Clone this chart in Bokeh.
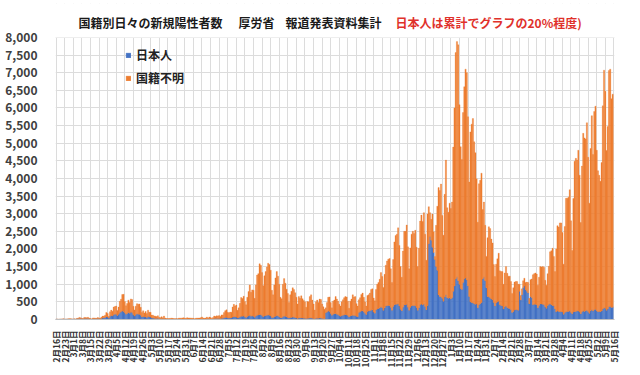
import math
from bokeh.plotting import figure
from bokeh.models import (Range1d, FixedTicker, NumeralTickFormatter, Label, Legend,
                          LegendItem, BoxAnnotation)
from bokeh.embed import file_html
from bokeh.resources import INLINE

# weekly tick labels (every 7th day, first day = 2020-02-16)
day_labels = [
    "2月16日", "2月23日", "3月1日", "3月8日", "3月15日", "3月22日", "3月29日",
    "4月5日", "4月12日", "4月19日", "4月26日", "5月3日", "5月10日", "5月17日",
    "5月24日", "5月31日", "6月7日", "6月14日", "6月21日", "6月28日", "7月5日",
    "7月12日", "7月19日", "7月26日", "8月2日", "8月9日", "8月16日", "8月23日",
    "8月30日", "9月6日", "9月13日", "9月20日", "9月27日", "10月4日", "10月11日",
    "10月18日", "10月25日", "11月1日", "11月8日", "11月15日", "11月22日",
    "11月29日", "12月6日", "12月13日", "12月20日", "12月27日", "1月3日",
    "1月10日", "1月17日", "1月24日", "1月31日", "2月7日", "2月14日", "2月21日",
    "2月28日", "3月7日", "3月14日", "3月21日", "3月28日", "4月4日", "4月11日",
    "4月18日", "4月25日", "5月2日", "5月9日", "5月16日",
]

# daily total of new positives (top of each stacked bar), one line per week
total = [
    8, 12, 6, 10, 12, 14, 20,
    10, 12, 14, 18, 22, 20, 15,
    14, 20, 12, 33, 36, 59, 47,
    35, 27, 59, 54, 52, 62, 40,
    26, 17, 44, 44, 38, 35, 55,
    43, 39, 66, 96, 96, 124, 200,
    173, 87, 220, 266, 235, 353, 368,
    383, 252, 351, 515, 576, 708, 714,
    507, 390, 457, 549, 482, 584, 568,
    373, 272, 379, 450, 436, 440, 344,
    201, 248, 186, 227, 169, 265, 205,
    203, 125, 123, 101, 95, 83, 107,
    62, 53, 78, 51, 98, 43, 28,
    27, 30, 31, 38, 34, 26, 23,
    26, 21, 36, 40, 37, 45, 50,
    35, 37, 51, 40, 44, 40, 38,
    34, 18, 36, 41, 40, 41, 52,
    72, 44, 36, 42, 68, 38, 70,
    56, 31, 56, 98, 83, 105, 100,
    110, 87, 131, 131, 195, 250, 274,
    208, 190, 210, 207, 355, 430, 385,
    410, 260, 330, 460, 622, 595, 660,
    510, 420, 630, 795, 981, 775, 840,
    830, 600, 980, 1260, 1300, 1580, 1535,
    1330, 960, 1240, 1360, 1490, 1595, 1560,
    1400, 830, 700, 980, 1180, 1360, 1230,
    1000, 630, 590, 1000, 1160, 1030, 860,
    740, 480, 700, 800, 900, 850, 760,
    630, 440, 650, 600, 670, 590, 540,
    500, 350, 510, 500, 650, 700, 550,
    440, 270, 500, 550, 480, 580, 570,
    440, 360, 290, 330, 480, 630, 640,
    480, 330, 520, 550, 650, 580, 520,
    430, 380, 500, 560, 620, 650, 640,
    520, 320, 520, 580, 700, 640, 650,
    450, 380, 560, 620, 710, 750, 630,
    500, 380, 680, 700, 750, 850, 870,
    610, 530, 850, 1000, 1050, 1140, 1330,
    1220, 910, 1280, 1540, 1660, 1710, 1730,
    1440, 1050, 1700, 2200, 2380, 2420, 2600,
    2100, 1500, 1200, 1940, 2500, 2500, 2680,
    2060, 1440, 2030, 2420, 2500, 2440, 2530,
    2050, 1500, 2020, 2790, 2960, 2780, 3030,
    2420, 1680, 2990, 3200, 3030, 2840, 2990,
    2490, 1790, 2670, 3210, 3740, 3660, 3840,
    2950, 2390, 3550, 4520, 3170, 3040, 3300,
    3150, 3330, 4890, 6000, 7570, 7880, 7790,
    6090, 4900, 4540, 5870, 6600, 7100, 7000,
    5750, 3900, 5320, 5540, 5700, 5040, 4730,
    3990, 2760, 3850, 3950, 4150, 3120, 3330,
    2670, 1790, 2320, 2630, 2580, 2280, 2170,
    1560, 1220, 1570, 1720, 1880, 1380, 1360,
    1360, 1000, 1320, 1500, 1310, 1230, 1230,
    1080, 740, 900, 1060, 1080, 1080, 1000,
    1000, 680, 870, 1100, 1170, 1050, 1060,
    1050, 600, 1130, 1150, 1270, 1300, 1320,
    1290, 970, 1200, 1500, 1490, 1500, 1480,
    1110, 970, 1300, 1510, 1920, 1950, 2020,
    1790, 1360, 2000, 2660, 2620, 2740, 2740,
    2470, 1570, 2640, 3440, 3440, 3470, 3680,
    2800, 1960, 3430, 4490, 4570, 4520, 4800,
    4090, 2750, 4350, 5280, 5150, 5120, 5580,
    4600, 3300, 4850, 5780, 4680, 5900, 6050,
    4800, 4220, 4090, 3920, 4450, 6060, 7070,
    6470, 4790, 5470, 7060, 7100, 6260, 6390,
]

# daily new positives, Japanese nationality (blue, bottom of stack)
japanese = [
    5, 8, 4, 6, 8, 9, 12,
    6, 8, 9, 11, 13, 12, 9,
    8, 12, 7, 18, 20, 30, 25,
    18, 15, 30, 28, 26, 30, 20,
    14, 9, 22, 22, 19, 18, 27,
    20, 18, 30, 45, 44, 55, 80,
    70, 40, 90, 110, 100, 140, 150,
    150, 110, 150, 200, 220, 240, 230,
    190, 150, 170, 200, 180, 210, 200,
    140, 100, 140, 160, 150, 150, 120,
    70, 90, 70, 80, 60, 90, 70,
    70, 45, 40, 35, 30, 28, 35,
    20, 18, 25, 17, 30, 14, 10,
    9, 10, 10, 12, 11, 8, 8,
    8, 7, 12, 13, 12, 15, 16,
    11, 12, 16, 13, 14, 13, 12,
    11, 6, 12, 13, 13, 13, 16,
    22, 14, 11, 13, 21, 12, 22,
    17, 10, 17, 28, 25, 30, 28,
    30, 24, 35, 34, 48, 60, 65,
    45, 40, 45, 42, 70, 80, 72,
    70, 45, 55, 75, 95, 90, 100,
    70, 60, 85, 100, 120, 95, 100,
    90, 65, 100, 120, 125, 140, 135,
    110, 80, 100, 110, 120, 125, 120,
    100, 60, 55, 75, 95, 110, 100,
    80, 55, 50, 85, 90, 95, 75,
    60, 40, 55, 60, 70, 65, 55,
    45, 30, 45, 40, 45, 40, 38,
    35, 25, 35, 35, 45, 45, 38,
    30, 20, 35, 38, 33, 40, 40,
    30, 25, 20, 190, 210, 240, 230,
    170, 120, 150, 160, 170, 150, 140,
    110, 90, 110, 120, 130, 140, 130,
    110, 70, 100, 110, 120, 110, 115,
    90, 80, 200, 220, 240, 250, 220,
    180, 140, 230, 240, 250, 260, 280,
    210, 180, 270, 300, 310, 330, 360,
    330, 260, 330, 380, 390, 400, 400,
    340, 260, 370, 420, 430, 430, 450,
    380, 290, 250, 350, 420, 410, 430,
    350, 260, 350, 390, 400, 390, 400,
    340, 260, 330, 420, 440, 410, 440,
    370, 280, 400, 2150, 2350, 2250, 2050,
    1900, 1700, 1500, 1400, 700, 650, 640,
    600, 520, 640, 700, 620, 600, 620,
    580, 620, 800, 950, 1150, 1200, 1100,
    1000, 880, 850, 1050, 1150, 1180, 1120,
    950, 650, 500, 480, 470, 450, 430,
    440, 330, 420, 450, 480, 1150, 1200,
    1100, 900, 650, 640, 620, 580, 560,
    480, 380, 470, 500, 520, 420, 400,
    380, 300, 360, 380, 340, 320, 310,
    280, 200, 230, 270, 280, 280, 260,
    800, 550, 700, 900, 950, 850, 800,
    750, 450, 650, 620, 420, 430, 430,
    420, 330, 400, 450, 440, 430, 420,
    360, 320, 400, 430, 450, 420, 400,
    380, 300, 220, 240, 230, 220, 230,
    210, 150, 200, 220, 230, 230, 240,
    200, 160, 210, 230, 230, 240, 240,
    210, 160, 220, 240, 230, 250, 260,
    230, 180, 250, 280, 240, 280, 290,
    250, 220, 230, 220, 240, 300, 330,
    320, 260, 300, 360, 370, 340, 350,
]

title_parts = ["国籍別日々の新規陽性者数", "厚労省", "報道発表資料集計", "日本人は累計でグラフの20%程度)"]
title_colors = ["#1a1a1a", "#1a1a1a", "#1a1a1a", "#E0312B"]
series_names = ["日本人", "国籍不明"]

if len(total) != len(japanese):
    raise SystemExit("length mismatch %d %d" % (len(total), len(japanese)))

days = list(range(len(total)))
n_slots = 7 * (len(day_labels) - 1) + 1
tick_pos = [7 * i for i in range(len(day_labels))]

BLUE = "#4472C4"
ORANGE = "#ED7D31"
FONT = "Noto Sans CJK JP"

W, H = 632, 370
FRAME_L, FRAME_R, FRAME_T, FRAME_B = 55, 614, 3, 320
Y_MAX = 8000
PX_8000 = 283                       # pixel height of 0..8000
frame_h = FRAME_B - FRAME_T
y_top = frame_h * Y_MAX / PX_8000   # frame extends above 8000 to hold the title

p = figure(
    width=W, height=H,
    x_range=Range1d(-0.5, n_slots - 0.5),
    y_range=Range1d(0, y_top),
    output_backend="svg", toolbar_location=None,
    min_border_left=FRAME_L, min_border_right=W - FRAME_R,
    min_border_top=FRAME_T, min_border_bottom=H - FRAME_B,
)
p.outline_line_color = None
p.background_fill_color = "white"
p.border_fill_color = "white"

r_jp = p.vbar(x=days, top=japanese, width=1.0, fill_color=BLUE,
              line_color=BLUE, line_width=0.3)
r_un = p.vbar(x=days, bottom=japanese, top=total, width=1.0,
              fill_color=ORANGE, line_color=ORANGE, line_width=0.3)

# hide grid above the 8,000 line (title area)
p.add_layout(BoxAnnotation(bottom=Y_MAX, fill_color="white", fill_alpha=1.0,
                           line_color=None, level="glyph"))

# axes
xa = p.xaxis[0]
xa.ticker = FixedTicker(ticks=tick_pos)
xa.major_label_overrides = {t: lab for t, lab in zip(tick_pos, day_labels)}
xa.major_label_orientation = math.pi / 2
xa.major_label_text_font = FONT
xa.major_label_text_font_size = "8.5px"
xa.major_label_text_font_style = "bold"
xa.major_label_text_color = "#333333"
xa.major_label_standoff = 5
xa.major_tick_line_color = None
xa.minor_tick_line_color = None
xa.axis_line_color = "#bfbfbf"

ya = p.yaxis[0]
ya.ticker = FixedTicker(ticks=list(range(0, Y_MAX + 1, 500)))
ya.formatter = NumeralTickFormatter(format="0,0")
ya.major_label_text_font = FONT
ya.major_label_text_font_size = "12px"
ya.major_label_text_font_style = "bold"
ya.major_label_text_color = "#404040"
ya.major_label_standoff = 12
ya.major_tick_line_color = None
ya.minor_tick_line_color = None
ya.axis_line_color = None

p.xgrid.grid_line_color = "#dcdcdc"
p.ygrid.grid_line_color = "#dcdcdc"

# legend
legend = Legend(
    items=[LegendItem(label=series_names[0], renderers=[r_jp]),
           LegendItem(label=series_names[1], renderers=[r_un])],
    location=(70, 233), orientation="vertical",
    glyph_width=6, glyph_height=6, label_height=16, spacing=6,
    label_standoff=5, padding=0, margin=0,
    label_text_font=FONT, label_text_font_size="12px",
    label_text_font_style="bold", label_text_color="#222222",
    background_fill_alpha=0, border_line_color=None,
)
p.add_layout(legend)

# title (black + red parts), positions given in pixels of the page
title_px = [78, 238, 285, 395]
title_y_px = 22
px_per_day = (FRAME_R - FRAME_L) / n_slots
for txt, col, px in zip(title_parts, title_colors, title_px):
    p.add_layout(Label(
        x=(px - FRAME_L) / px_per_day - 0.5,
        y=(FRAME_B - title_y_px) * Y_MAX / PX_8000,
        text=txt, text_font=FONT, text_font_size="12px", text_font_style="bold",
        text_color=col, text_baseline="middle", text_align="left"))

open("out.html", "w").write(file_html(p, INLINE))
